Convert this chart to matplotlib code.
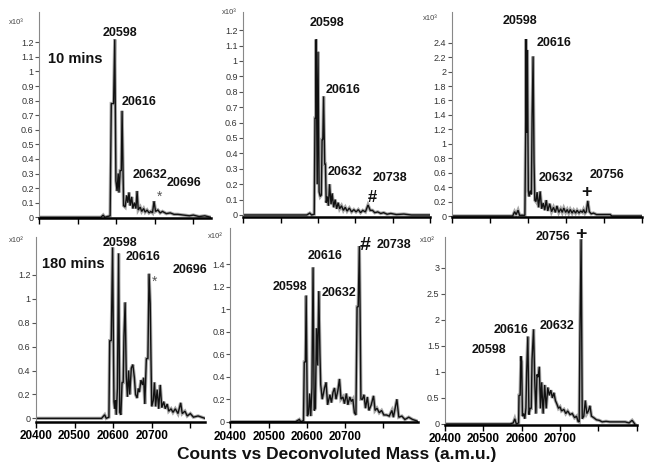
import matplotlib
matplotlib.use("Agg")
import matplotlib.pyplot as plt
import numpy as np
from matplotlib.ticker import FuncFormatter

plt.rcParams['font.family'] = ['Liberation Sans', 'DejaVu Sans']

W, H = 654, 476

# ---- spectra (mass in Da, counts in units of the panel multiplier)
# 10 mins, sample 1
mass_t1 = [20400, 20560, 20566, 20570, 20584, 20587, 20593, 20596, 20599, 20602, 20605, 20607,
           20610, 20613, 20615, 20619, 20623, 20627, 20630, 20633, 20636, 20640, 20643, 20647,
           20651, 20654, 20657, 20662, 20666, 20671, 20675, 20680, 20685, 20690, 20694, 20698,
           20702, 20708, 20714, 20720, 20730, 20740, 20750, 20760, 20775, 20790, 20800, 20815,
           20830, 20845]
cnt_t1 = [0, 0, 0.015, 0, 0.01, 0.78, 0.78, 1.22, 0.25, 0.18, 0.3, 0.17,
          0.32, 0.32, 0.73, 0.08, 0.07, 0.15, 0.1, 0.17, 0.08, 0.14, 0.06, 0.1,
          0.06, 0.18, 0.05, 0.07, 0.04, 0.06, 0.035, 0.05, 0.03, 0.04, 0.03, 0.11,
          0.04, 0.05, 0.03, 0.04, 0.025, 0.03, 0.02, 0.02, 0.015, 0.01, 0.015, 0.005,
          0.01, 0]

# 10 mins, sample 2
mass_t2 = [20400, 20570, 20578, 20583, 20590, 20592, 20594, 20595, 20598, 20600, 20603, 20606,
           20609, 20611, 20613, 20615, 20618, 20620, 20622, 20625, 20628, 20631, 20635, 20638,
           20642, 20646, 20650, 20654, 20658, 20663, 20668, 20673, 20678, 20684, 20690, 20696,
           20702, 20708, 20714, 20720, 20727, 20734, 20740, 20746, 20752, 20760, 20768, 20776,
           20785, 20795, 20810, 20830, 20850, 20900]
cnt_t2 = [0, 0, 0.012, 0, 0.005, 0.63, 0.63, 1.14, 0.2, 1.06, 0.15, 0.12,
          0.13, 0.49, 0.49, 0.77, 0.33, 0.33, 0.08, 0.12, 0.06, 0.2, 0.07, 0.14,
          0.05, 0.1, 0.04, 0.08, 0.04, 0.06, 0.03, 0.05, 0.025, 0.045, 0.02, 0.035,
          0.02, 0.035, 0.015, 0.03, 0.02, 0.065, 0.03, 0.03, 0.015, 0.02, 0.01, 0.015,
          0.005, 0.01, 0.003, 0.006, 0, 0]

# 10 mins, sample 3
mass_t3 = [20400, 20560, 20565, 20569, 20574, 20578, 20592, 20594, 20595, 20597, 20598.5, 20601,
           20603, 20606, 20609, 20611, 20613.5, 20616, 20618, 20621, 20624, 20628, 20632, 20636,
           20640, 20644, 20648, 20652, 20657, 20662, 20667, 20672, 20676, 20681, 20686, 20690,
           20694, 20699, 20703, 20707, 20711, 20716, 20720, 20725, 20729, 20734, 20738, 20743,
           20746, 20750, 20753, 20757, 20761, 20766, 20772, 20780, 20800, 20816, 20820, 20900]
cnt_t3 = [0, 0, 0.06, 0.02, 0.08, 0.01, 0.01, 1.15, 2.45, 1.15, 2.3, 0.35,
          0.27, 0.35, 0.3, 1.4, 2.21, 0.75, 0.22, 0.2, 0.33, 0.12, 0.34, 0.1,
          0.18, 0.08, 0.22, 0.07, 0.17, 0.06, 0.12, 0.05, 0.14, 0.05, 0.1, 0.05,
          0.11, 0.05, 0.09, 0.04, 0.09, 0.04, 0.08, 0.04, 0.08, 0.04, 0.07, 0.05,
          0.09, 0.04, 0.06, 0.21, 0.06, 0.03, 0.04, 0.02, 0.02, 0.02, 0, 0]

# 180 mins, sample 1
mass_b1 = [20400, 20570, 20578, 20582, 20589, 20591, 20595, 20598.5, 20602, 20604, 20606, 20608,
           20611, 20614, 20617, 20620, 20623, 20626, 20628, 20631, 20634, 20637, 20640, 20643,
           20647, 20651, 20655, 20658, 20662, 20665, 20668, 20672, 20676, 20679, 20682, 20686,
           20690, 20693, 20696, 20698, 20700, 20704, 20707, 20710, 20714, 20718, 20722, 20726,
           20731, 20735, 20740, 20744, 20750, 20755, 20761, 20768, 20775, 20779, 20786, 20792,
           20800, 20808, 20820, 20838]
cnt_b1 = [0, 0, 0.03, 0, 0.01, 0.65, 0.65, 1.43, 0.14, 0.08, 0.15, 0.03,
          0.25, 1.38, 0.05, 0.03, 0.3, 0.3, 0.69, 0.97, 0.35, 0.18, 0.4, 0.2,
          0.42, 0.45, 0.34, 0.2, 0.17, 0.25, 0.22, 0.32, 0.28, 0.34, 0.12, 0.5,
          0.5, 1.21, 0.96, 0.5, 0.1, 0.15, 0.3, 0.1, 0.24, 0.08, 0.28, 0.09,
          0.14, 0.08, 0.12, 0.06, 0.08, 0.05, 0.08, 0.04, 0.13, 0.04, 0.06, 0.02,
          0.04, 0.01, 0.02, 0]

# 180 mins, sample 2
mass_b2 = [20400, 20570, 20580, 20584, 20591, 20593, 20596, 20598, 20601, 20604, 20607, 20610,
           20613, 20616, 20619, 20622, 20625, 20628, 20631, 20634, 20636, 20640, 20646, 20650,
           20654, 20660, 20664, 20668, 20672, 20676, 20681, 20685, 20689, 20694, 20698, 20703,
           20707, 20712, 20716, 20720, 20724, 20728, 20731, 20734, 20737, 20739, 20741, 20745,
           20749, 20753, 20758, 20762, 20768, 20774, 20778, 20783, 20789, 20795, 20801, 20808,
           20815, 20822, 20826, 20835, 20840, 20848, 20856, 20866, 20876, 20885, 20891]
cnt_b2 = [0, 0, 0.02, 0, 0.01, 0.53, 0.53, 1.12, 0.05, 0.07, 0.25, 0.05,
          0.3, 1.37, 0.1, 0.12, 0.83, 0.5, 1.16, 0.6, 0.33, 0.2, 0.3, 0.35,
          0.15, 0.24, 0.17, 0.26, 0.3, 0.2, 0.28, 0.38, 0.2, 0.22, 0.16, 0.25,
          0.15, 0.22, 0.18, 0.2, 0.08, 0.06, 1.02, 1.02, 1.56, 0.95, 0.2, 0.2,
          0.24, 0.12, 0.22, 0.1, 0.15, 0.23, 0.1, 0.12, 0.08, 0.1, 0.06, 0.06,
          0.05, 0.1, 0.04, 0.2, 0.04, 0.05, 0.02, 0.04, 0.02, 0.01, 0]

# 180 mins, sample 3
mass_b3 = [20400, 20570, 20578, 20582, 20586, 20592, 20593, 20596, 20598, 20600, 20602, 20605,
           20608, 20611, 20613, 20616, 20619, 20622, 20625, 20627, 20631, 20634, 20637, 20640,
           20643, 20646, 20649, 20652, 20656, 20660, 20664, 20668, 20672, 20676, 20680, 20684,
           20688, 20692, 20696, 20700, 20704, 20710, 20715, 20720, 20726, 20732, 20738, 20743,
           20747, 20750, 20752, 20755, 20758, 20762, 20766, 20770, 20774, 20778, 20782, 20788,
           20795, 20802, 20810, 20820, 20830, 20850, 20870, 20880, 20888, 20895]
cnt_b3 = [0, 0, 0.02, 0.1, 0, 0.02, 0.55, 0.55, 1.3, 1.2, 0.15, 0.2,
          0.1, 0.3, 1.0, 1.68, 0.18, 0.3, 0.3, 1.24, 1.82, 0.85, 0.2, 0.95,
          0.9, 1.1, 0.3, 0.8, 0.2, 0.75, 0.3, 0.7, 0.55, 0.65, 0.5, 0.6,
          0.45, 0.38, 0.3, 0.33, 0.25, 0.28, 0.2, 0.25, 0.18, 0.2, 0.12, 0.15,
          0.05, 0.04, 1.75, 3.55, 0.1, 0.15, 0.45, 0.2, 0.25, 0.35, 0.15, 0.12,
          0.08, 0.07, 0.04, 0.05, 0.04, 0.04, 0.04, 0.02, 0.07, 0]

tick_masses = [20400, 20500, 20600, 20700, 20800, 20900]
labelled_masses = [20400, 20500, 20600, 20700]

yt_small = [0, 0.1, 0.2, 0.3, 0.4, 0.5, 0.6, 0.7, 0.8, 0.9, 1, 1.1, 1.2]
yt_t3 = [0, 0.2, 0.4, 0.6, 0.8, 1, 1.2, 1.4, 1.6, 1.8, 2, 2.2, 2.4]
yt_b1 = [0, 0.2, 0.4, 0.6, 0.8, 1, 1.2]
yt_b2 = [0, 0.2, 0.4, 0.6, 0.8, 1, 1.2, 1.4]
yt_b3 = [0, 0.5, 1, 1.5, 2, 2.5, 3]

# panel layout in pixels: left, top, right, bottom
panels = [
    dict(m=mass_t1, c=cnt_t1, box=(39.3, 11.7, 211, 218), xl=(20400, 20846), yl=(-0.005, 1.41),
         yt=yt_small, lab=False, mult='x10³', mpos=(9, 22)),
    dict(m=mass_t2, c=cnt_t2, box=(243.3, 11.7, 430, 217.3), xl=(20400, 20900), yl=(-0.015, 1.32),
         yt=yt_small, lab=False, mult='x10³', mpos=(222, 13)),
    dict(m=mass_t3, c=cnt_t3, box=(451.7, 11.7, 642.3, 217.3), xl=(20400, 20900), yl=(-0.018, 2.83),
         yt=yt_t3, lab=False, mult='x10³', mpos=(423, 18)),
    dict(m=mass_b1, c=cnt_b1, box=(36, 236.7, 205, 421.7), xl=(20400, 20838), yl=(-0.028, 1.52),
         yt=yt_b1, lab=True, mult='x10²', mpos=(9, 241)),
    dict(m=mass_b2, c=cnt_b2, box=(230.4, 228, 418.3, 422.3), xl=(20400, 20891), yl=(-0.005, 1.72),
         yt=yt_b2, lab=True, mult='x10²', mpos=(208, 237)),
    dict(m=mass_b3, c=cnt_b3, box=(445, 236.7, 636.7, 425), xl=(20400, 20900), yl=(-0.02, 3.6),
         yt=yt_b3, lab=True, mult='x10²', mpos=(420, 241)),
]

fig = plt.figure(figsize=(W / 100, H / 100), dpi=100)


def put(txt, x, y, **kw):
    kw.setdefault('ha', 'center')
    kw.setdefault('va', 'center')
    fig.text(x / W, 1 - y / H, txt, **kw)


for p in panels:
    l, t, r, b = p['box']
    ax = fig.add_axes([l / W, 1 - b / H, (r - l) / W, (b - t) / H])
    # scanned look: grey halo under a black trace
    ax.plot(p['m'], p['c'], color='#a8a8a8', lw=2.4, solid_joinstyle='miter')
    ax.plot(p['m'], p['c'], color='#111111', lw=1.0, solid_joinstyle='miter')
    ax.set_xlim(*p['xl'])
    ax.set_ylim(*p['yl'])
    for s in ('top', 'right'):
        ax.spines[s].set_visible(False)
    ax.spines['left'].set_color('#888888')
    ax.spines['left'].set_linewidth(0.8)
    ax.spines['bottom'].set_color('black')
    ax.spines['bottom'].set_linewidth(1.8)
    ax.set_yticks(p['yt'])
    ax.yaxis.set_major_formatter(FuncFormatter(lambda v, pos: f"{v:g}"))
    ax.tick_params(axis='y', length=3, width=0.8, color='#555555', pad=1,
                   labelsize=6.5, labelcolor='#333333')
    xt = [v for v in tick_masses if p['xl'][0] <= v <= p['xl'][1] + 1]
    ax.set_xticks(xt)
    if p['lab']:
        ax.set_xticklabels([str(v) if v in labelled_masses else '' for v in xt],
                           fontweight='bold', fontsize=8.5)
    else:
        ax.set_xticklabels([])
    ax.tick_params(axis='x', length=4, width=1, color='black', pad=2)
    put(p['mult'], p['mpos'][0], p['mpos'][1], ha='left', fontsize=5.5, color='#444444')

# peak labels (text, x px, y px)
peak_labels = [
    ('20598', 120, 33), ('20616', 139.5, 102), ('20632', 150, 175), ('20696', 184, 183),
    ('20598', 327, 23), ('20616', 343, 90), ('20632', 345, 172), ('20738', 389.5, 178),
    ('20598', 520, 21.5), ('20616', 554, 43), ('20632', 556, 178), ('20756', 606.5, 175),
    ('20598', 120, 243.5), ('20616', 143, 257), ('20696', 190, 270),
    ('20598', 290, 287), ('20616', 325, 256), ('20632', 338.5, 293), ('20738', 394, 245),
    ('20756', 553, 237), ('20616', 511.5, 330), ('20632', 557.5, 326), ('20598', 489, 350),
]
for txt, x, y in peak_labels:
    put(txt, x, y, fontsize=9, fontweight='bold', color='#111111')

put('10 mins', 75, 59, fontsize=10.5, fontweight='bold', color='#111111')
put('180 mins', 73.5, 264, fontsize=10.5, fontweight='bold', color='#111111')

put('*', 160, 197, fontsize=10, color='#555555')
put('*', 155, 282, fontsize=10, color='#555555')
put('#', 372.5, 197, fontsize=12, fontweight='bold', color='#111111')
put('#', 365, 245.5, fontsize=14, fontweight='bold', color='#111111')
put('+', 587, 192, fontsize=13, fontweight='bold', color='#111111')
put('+', 581, 235, fontsize=14, fontweight='bold', color='#111111')

put('Counts vs Deconvoluted Mass (a.m.u.)', 337, 455, fontsize=12.5, fontweight='bold', color='#111111')

fig.savefig('out.png', dpi=100)
